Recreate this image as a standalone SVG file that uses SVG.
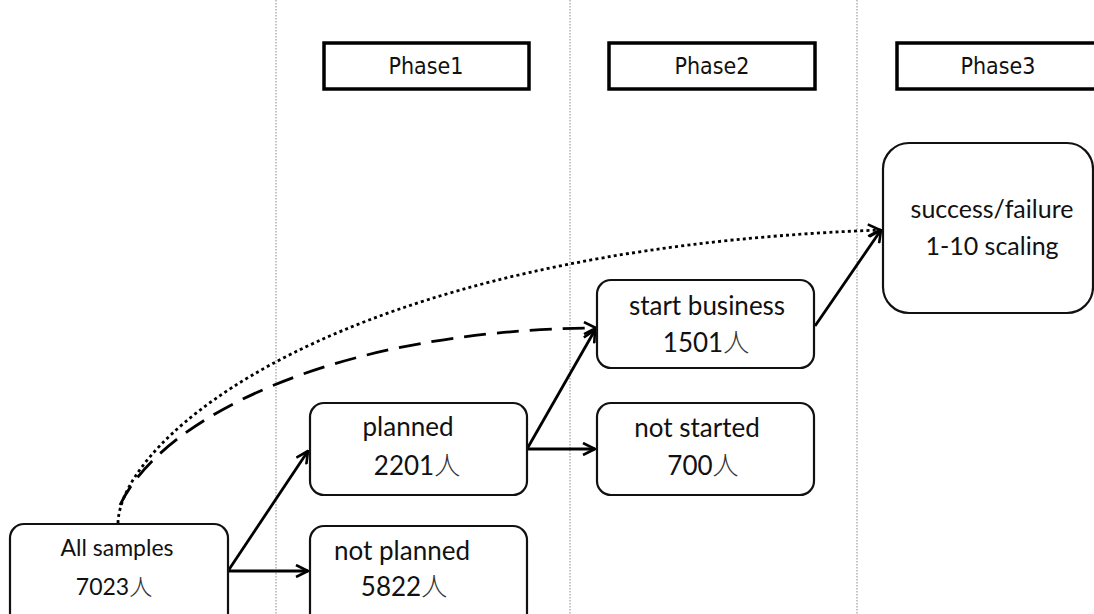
<svg xmlns="http://www.w3.org/2000/svg" width="1094" height="614" viewBox="0 0 1094 614">
<style>
.sep{stroke:#888;stroke-width:1;stroke-dasharray:1.5 1.5;fill:none}
.phase{fill:#fff;stroke:#000;stroke-width:3.5}
.ptxt{font-family:"DejaVu Sans Condensed","DejaVu Sans",sans-serif;font-size:23px;fill:#111;text-anchor:middle}
.node{fill:#fff;stroke:#111;stroke-width:2.2}
.t{font-family:Lato,"Noto Sans CJK JP",sans-serif;font-size:26px;fill:#111;text-anchor:middle}
.cn{font-family:"Noto Sans CJK JP",sans-serif;font-weight:300;fill:#333}
.c{stroke:#000;stroke-width:2.8;fill:none}
</style>
<defs>
<marker id="ah" viewBox="0 0 14 14" refX="13" refY="7" markerWidth="14" markerHeight="14" markerUnits="userSpaceOnUse" orient="auto">
<path d="M1,1 L13,7 L1,13" fill="none" stroke="#000" stroke-width="2.6"/>
</marker>
</defs>
<g id="separators">
<line class="sep" x1="276" y1="0" x2="276" y2="614"/>
<line class="sep" x1="570" y1="0" x2="570" y2="614"/>
<line class="sep" x1="857" y1="0" x2="857" y2="614"/>
</g>
<g id="phase1"><rect class="phase" x="324" y="43" width="205" height="46"/><text class="ptxt" x="426" y="74">Phase1</text></g>
<g id="phase2"><rect class="phase" x="609" y="43" width="206" height="46"/><text class="ptxt" x="712" y="74">Phase2</text></g>
<g id="phase3"><rect class="phase" x="897" y="43" width="210" height="46"/><text class="ptxt" x="998" y="74">Phase3</text></g>
<g id="connectors">
<path class="c" d="M118,523 C120,440 330,250 880,230" stroke-width="3.2" stroke-dasharray="3 3.2" marker-end="url(#ah)"/>
<path class="c" d="M120,505 C160,420 330,330 596,328" stroke-width="3.4" stroke-dasharray="22 11" marker-end="url(#ah)"/>
<line class="c" x1="228" y1="571" x2="308" y2="571" marker-end="url(#ah)"/>
<line class="c" x1="228" y1="571" x2="308" y2="451" marker-end="url(#ah)"/>
<line class="c" x1="527" y1="449" x2="595" y2="449" marker-end="url(#ah)"/>
<line class="c" x1="527" y1="449" x2="595" y2="330" marker-end="url(#ah)"/>
<line class="c" x1="815" y1="326" x2="881" y2="230" marker-end="url(#ah)"/>
</g>
<g id="all-samples"><rect class="node" x="10" y="524" width="218" height="110" rx="14"/><text class="t" x="117" y="556" style="font-size:23px">All samples</text><text class="t" x="114" y="595" style="font-size:23px">7023<tspan class="cn">人</tspan></text></g>
<g id="planned"><rect class="node" x="310" y="403" width="217" height="92" rx="14"/><text class="t" x="408" y="436">planned</text><text class="t" x="417" y="475">2201<tspan class="cn">人</tspan></text></g>
<g id="not-planned"><rect class="node" x="310" y="526" width="217" height="110" rx="14"/><text class="t" x="402" y="560">not planned</text><text class="t" x="404" y="596">5822<tspan class="cn">人</tspan></text></g>
<g id="start-business"><rect class="node" x="597" y="280" width="217" height="88" rx="14"/><text class="t" x="707" y="315">start business</text><text class="t" x="706" y="352">1501<tspan class="cn">人</tspan></text></g>
<g id="not-started"><rect class="node" x="597" y="403" width="217" height="92" rx="14"/><text class="t" x="697" y="437">not started</text><text class="t" x="703" y="475">700<tspan class="cn">人</tspan></text></g>
<g id="success"><rect class="node" x="883" y="143" width="210" height="170" rx="26"/><text class="t" x="992" y="218" style="font-size:25px">success/failure</text><text class="t" x="992" y="255" style="font-size:25px">1-10 scaling</text></g>
</svg>
